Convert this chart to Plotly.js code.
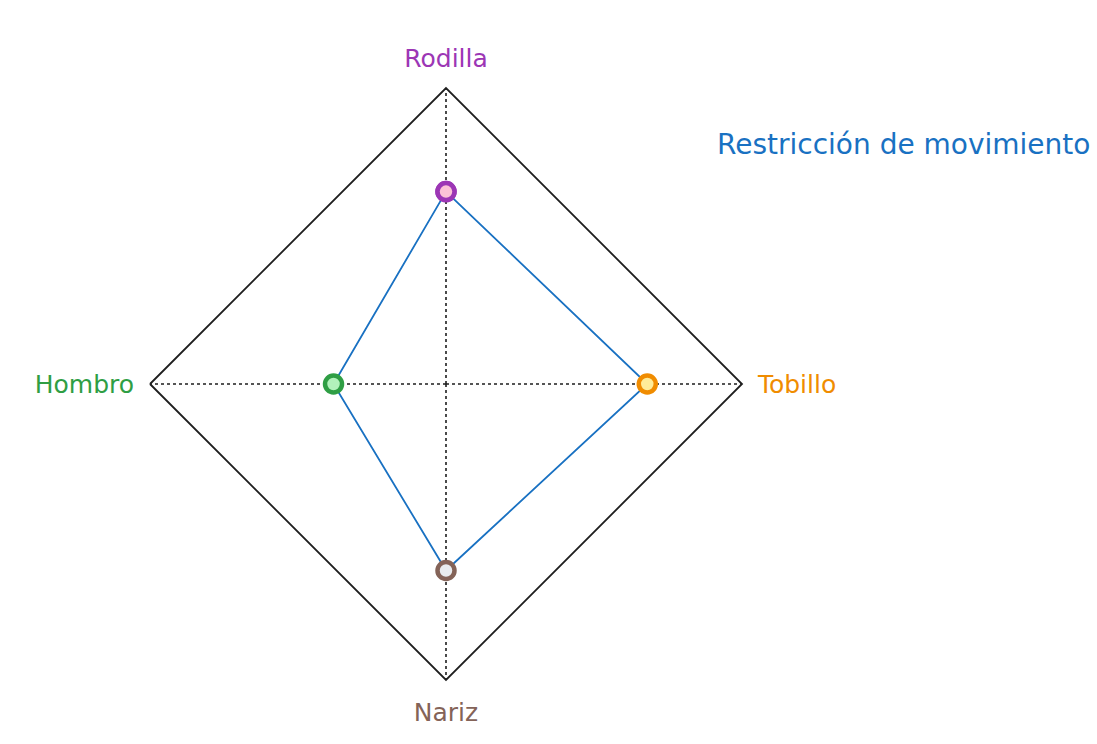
<!DOCTYPE html>
<html>
<head>
<meta charset="utf-8">
<script src="https://cdn.plot.ly/plotly-3.0.1.min.js"></script>
<style>html,body{margin:0;padding:0;background:#fff;}#chart{width:1097px;height:744px;}</style>
</head>
<body>
<div id="chart"></div>
<script>
const categories = ["Rodilla", "Tobillo", "Nariz", "Hombro"];
const values = [65, 68, 63, 38];
const seriesName = "Restricción de movimiento";
const labelColors = ["#9c36b5", "#f08c00", "#846358", "#2f9e44"];
const markerFills = ["#fcc2d7", "#ffec99", "#e9ecef", "#b2f2bb"];

const FONT = "DejaVu Sans, Noto Sans, sans-serif";

const trace = {
  type: "scatterpolar",
  r: values.concat([values[0]]),
  theta: categories.concat([categories[0]]),
  mode: "lines+markers",
  name: seriesName,
  line: {color: "#1971c2", width: 1.8},
  marker: {
    size: 17,
    color: markerFills.concat([markerFills[0]]),
    line: {color: labelColors.concat([labelColors[0]]), width: 4.5}
  },
  hoverinfo: "skip",
  showlegend: false
};

const layout = {
  width: 1097,
  height: 744,
  margin: {l: 0, r: 0, t: 0, b: 0},
  paper_bgcolor: "#ffffff",
  plot_bgcolor: "#ffffff",
  font: {family: FONT, size: 25, color: "#1e1e1e"},
  showlegend: false,
  polar: {
    domain: {x: [150/1097, 742/1097], y: [64/744, 656/744]},
    bgcolor: "#ffffff",
    gridshape: "linear",
    radialaxis: {
      range: [0, 100],
      visible: true,
      showgrid: false,
      showline: false,
      showticklabels: false,
      ticks: ""
    },
    angularaxis: {
      direction: "clockwise",
      rotation: 90,
      categoryorder: "array",
      categoryarray: categories,
      tickvals: categories,
      ticktext: categories.map((c, i) => '<span style="color:' + labelColors[i] + '">' + c + '</span>'),
      tickfont: {family: FONT, size: 25},
      showline: true,
      linecolor: "#1e1e1e",
      linewidth: 1.8,
      showgrid: true,
      gridcolor: "#1e1e1e",
      gridwidth: 1.6,
      griddash: "dot",
      ticks: "outside",
      ticklen: 10,
      tickcolor: "rgba(0,0,0,0)"
    }
  },
  annotations: [{
    text: seriesName,
    xref: "paper", yref: "paper",
    x: 1092/1097, y: 1 - 145/744,
    xanchor: "right", yanchor: "middle",
    showarrow: false,
    font: {family: FONT, size: 28, color: "#1971c2"}
  }]
};

Plotly.newPlot("chart", [trace], layout, {displayModeBar: false, staticPlot: true});
</script>
</body>
</html>
